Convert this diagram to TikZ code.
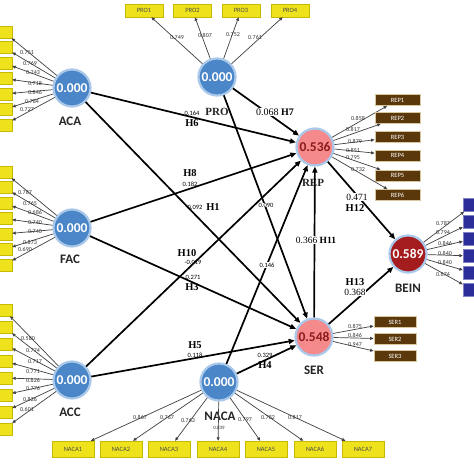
\documentclass[tikz,border=0pt]{standalone}
\usepackage{fontspec}
\setmainfont{Liberation Serif}
\newfontfamily\carl{Carlito}
\usetikzlibrary{arrows.meta}
\definecolor{lvblue}{HTML}{4A86C8}
\definecolor{ringblue}{HTML}{A9C8EA}
\definecolor{pinkfill}{HTML}{F48A8C}
\definecolor{pinktext}{HTML}{8E1B1B}
\definecolor{beinfill}{HTML}{A51C1E}
\definecolor{yfill}{HTML}{EEE21C}
\definecolor{ydraw}{HTML}{C9B800}
\definecolor{brownfill}{HTML}{5A380C}
\definecolor{browndraw}{HTML}{D8C8A0}
\definecolor{indfill}{HTML}{2D2D9A}
\begin{document}
\begin{tikzpicture}[x=1pt,y=-1pt,
  lv/.style={circle,minimum size=37pt,inner sep=0pt,line width=2.2pt,draw=ringblue,fill=lvblue,text=white,font=\carl\bfseries\fontsize{13.5}{13.5}\selectfont},
  lvpink/.style={lv,fill=pinkfill,text=pinktext},
  lvred/.style={lv,fill=beinfill,text=white},
  lvname/.style={font=\carl\bfseries\fontsize{13}{13}\selectfont,text=black!85,inner sep=0pt},
  lvnames/.style={font=\bfseries\fontsize{11}{11}\selectfont,text=black!85,inner sep=0pt},
  ybox/.style={rectangle,draw=ydraw,line width=0.4pt,fill=yfill,minimum width=38pt,minimum height=13pt,inner sep=0pt,font=\carl\fontsize{6.5}{6.5}\selectfont,text=black!70},
  lbox/.style={ybox,minimum width=16pt,minimum height=12pt},
  bbox/.style={rectangle,draw=browndraw,line width=0.8pt,fill=brownfill,minimum width=45pt,minimum height=11pt,inner sep=0pt,font=\carl\fontsize{6.5}{6.5}\selectfont,text=white},
  ibox/.style={rectangle,fill=indfill,draw=indfill!60,minimum width=20pt,minimum height=13pt,inner sep=0pt},
  sarrow/.style={line width=1.7pt,-{Triangle[length=6pt,width=5pt]}},
  larrow/.style={line width=0.7pt,draw=black!75,-{Triangle[length=3.5pt,width=3pt]}},
  hl/.style={font=\bfseries\fontsize{10.5}{10.5}\selectfont,inner sep=0.5pt},
  coef/.style={font=\fontsize{9.5}{9.5}\selectfont,inner sep=0.5pt,fill=white},
  smallc/.style={font=\carl\fontsize{6.5}{6.5}\selectfont,inner sep=0.3pt},
  ld/.style={font=\carl\fontsize{6}{6}\selectfont,inner sep=0.3pt,text=black!80}
]
\fill[white] (0,0) rectangle (474,474);
\useasboundingbox (0,0) rectangle (474,474);

% latent variables
\node[lv] (ACA) at (72,88) {0.000};
\node[lv] (FAC) at (72,228) {0.000};
\node[lv] (ACC) at (72,380) {0.000};
\node[lv] (PRO) at (217,77) {0.000};
\node[lvpink] (REP) at (315,147) {0.536};
\node[lvpink] (SER) at (314,337) {0.548};
\node[lvred] (BEIN) at (408,254) {0.589};
\node[lv] (NACA) at (219,382) {0.000};

\node[lvname] (tACA) at (70,121) {ACA};
\node[lvname] (tFAC) at (70,259) {FAC};
\node[lvname] (tACC) at (70,412) {ACC};
\node[lvnames] (tPRO) at (217,112) {PRO};
\node[lvnames] (tREP) at (313,183) {REP};
\node[lvname] (tSER) at (314,370) {SER};
\node[lvname] (tBEIN) at (408,288) {BEIN};
\node[lvname] (tNACA) at (220,416) {NACA};

% indicator boxes and loadings
\foreach \i/\y in {1/32,2/47.5,3/63,4/78.5,5/94,6/109.5,7/125}{
  \node[lbox] (aca\i) at (4,\y) {};
  \draw[larrow] (ACA) -- (aca\i);}
\foreach \i/\y in {1/172,2/187.5,3/203,4/218.5,5/234,6/249.5,7/265}{
  \node[lbox] (fac\i) at (4,\y) {};
  \draw[larrow] (FAC) -- (fac\i);}
\foreach \i/\y in {1/310,2/327,3/344,4/361,5/378,6/395,7/412,8/429}{
  \node[lbox] (acc\i) at (4,\y) {};
  \draw[larrow] (ACC) -- (acc\i);}
\foreach \i/\x in {1/144,2/192.5,3/241,4/290}{
  \node[ybox] (pro\i) at (\x,10.5) {PRO\i};
  \draw[larrow] (PRO) -- (pro\i);}
\foreach \i/\y in {1/100,2/118,3/137,4/155.5,5/175.5,6/195}{
  \node[bbox] (rep\i) at (397.5,\y) {REP\i};
  \draw[larrow] (REP) -- (rep\i);}
\foreach \i/\y in {1/322,2/339,3/356}{
  \node[bbox,minimum width=42pt] (ser\i) at (395,\y) {SER\i};
  \draw[larrow] (SER) -- (ser\i);}
\foreach \i/\y in {1/205,2/222,3/239,4/256,5/273,6/290}{
  \node[ibox] (bein\i) at (473,\y) {};
  \draw[larrow] (BEIN) -- (bein\i);}
\foreach \i/\x in {1/73,2/121,3/169,4/218,5/266,6/315,7/363}{
  \node[ybox,minimum width=42pt,minimum height=16pt] (naca\i) at (\x,449) {NACA\i};
  \draw[larrow] (NACA) -- (naca\i);}

% loading labels
\foreach \t/\x/\y in {0.751/27/53,0.769/30/63,0.743/33/73,0.718/35/83,0.846/35/92,0.784/32/101,0.727/27/110,
  0.787/25/192,0.765/30/203,0.686/35/212,0.740/35/223,0.740/35/232,0.873/30/242,0.690/25/249,
  0.580/28/338,0.774/33/351,0.717/35/362,0.771/33/372,0.826/33/380,0.776/33/388,0.826/30/399,0.601/27/409,
  0.749/177/38,0.807/205/35,0.752/233/35,0.761/255/37,
  0.858/358/118,0.817/353/129,0.879/355/141,0.851/353/150,0.795/353/158,0.732/358/170,
  0.787/443/223,0.794/443/233,0.846/445/243,0.840/445/253,0.840/445/262,0.674/443/274,
  0.875/355/326,0.846/355/335,0.947/355/345,
  0.867/140/417,0.767/167/417,0.763/188/420,0.797/245/420,0.782/268/417,0.817/295/417}
  \node[ld] at (\x,\y) {\t};
\node[ld,font=\carl\fontsize{5}{5}\selectfont] at (219,428) {0.839};

% structural paths
\draw[sarrow] (ACA) -- (REP);
\draw[sarrow] (ACA) -- (SER);
\draw[sarrow] (FAC) -- (REP);
\draw[sarrow] (FAC) -- (SER);
\draw[sarrow] (ACC) -- (REP);
\draw[sarrow] (ACC) -- (SER);
\draw[sarrow] (PRO) -- (REP);
\draw[sarrow] (PRO) -- (SER);
\draw[sarrow] (NACA) -- (REP);
\draw[sarrow] (NACA) -- (SER);
\draw[sarrow] (SER) -- (REP);
\draw[sarrow] (REP) -- (BEIN);
\draw[sarrow] (SER) -- (BEIN);

% path labels
\node[smallc] at (192,113) {0.164};
\node[hl] at (192,123) {H6};
\node[fill=white,inner sep=0.5pt] at (275,112) {\fontsize{10}{10}\selectfont 0.068 \bfseries H7};
\node[hl] at (190,173) {H8};
\node[smallc] at (190,184) {0.182};
\node[smallc] at (195,207) {0.092};
\node[hl] at (213,207) {H1};
\node[smallc,fill=white] at (266,205) {0.090};
\node[fill=white,inner sep=0.5pt] at (316,240) {\fontsize{9.5}{9.5}\selectfont 0.366 \bfseries H11};
\node[hl] at (187,253) {H10};
\node[smallc] at (193,262) {-0.019};
\node[smallc,fill=white] at (267,265) {0.146};
\node[smallc] at (193,277) {0.271};
\node[hl] at (192,287) {H3};
\node[coef] at (357,197) {0.471};
\node[hl] at (355,208) {H12};
\node[hl] at (355,282) {H13};
\node[coef] at (355,292) {0.368};
\node[hl] at (195,345) {H5};
\node[smallc] at (195,355) {0.118};
\node[smallc] at (265,355) {0.329};
\node[hl] at (265,365) {H4};
\end{tikzpicture}
\end{document}
